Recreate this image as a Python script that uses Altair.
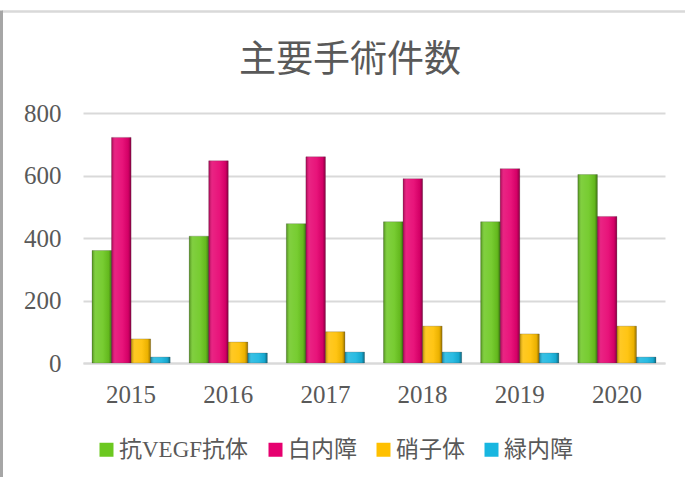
import altair as alt
import pandas as pd

years = ["2015", "2016", "2017", "2018", "2019", "2020"]
series = ["抗VEGF抗体", "白内障", "硝子体", "緑内障"]
anti_vegf = [360, 406, 446, 452, 452, 603]
cataract = [722, 647, 660, 590, 622, 469]
vitreous = [77, 67, 100, 118, 93, 118]
glaucoma = [19, 32, 35, 35, 32, 19]
colors = ["#6cc820", "#e6006f", "#ffc000", "#18b6e0"]

rows = []
for s, vals in zip(series, [anti_vegf, cataract, vitreous, glaucoma]):
    for y, v in zip(years, vals):
        rows.append({"year": y, "series": s, "value": v})
df = pd.DataFrame(rows)

GRAY = "#595959"
LATIN_CJK = "Liberation Serif, 'Noto Sans CJK JP'"

x_enc = alt.X("year:N", sort=years,
              scale=alt.Scale(paddingInner=0.196, paddingOuter=0.093),
              axis=alt.Axis(title=None, labelAngle=0, ticks=False, domain=True,
                            domainColor="#d9d9d9", domainWidth=2, grid=False,
                            labelFont="Liberation Serif", labelFontSize=25,
                            labelColor=GRAY, labelPadding=19))
xo_enc = alt.XOffset("series:N", sort=series,
                     scale=alt.Scale(domain=series, paddingInner=0, paddingOuter=0))
y_enc = alt.Y("value:Q", scale=alt.Scale(domain=[0, 800], nice=False),
              axis=alt.Axis(title=None, values=[0, 200, 400, 600, 800],
                            ticks=False, domain=False, gridColor="#d9d9d9",
                            gridWidth=2, labelFont="Liberation Serif",
                            labelFontSize=25, labelColor=GRAY, labelPadding=22))

bars = alt.Chart(df).mark_bar(stroke="#3a3a3a", strokeWidth=0.4, strokeOpacity=0.6).encode(
    x=x_enc, xOffset=xo_enc, y=y_enc,
    color=alt.Color("series:N", sort=series,
                    scale=alt.Scale(domain=series, range=colors),
                    legend=alt.Legend(title=None, orient="none", legendX=12, legendY=325,
                                      direction="horizontal", columns=4,
                                      symbolType="square", symbolSize=196,
                                      symbolStrokeWidth=0, symbolOpacity=1,
                                      labelFont=LATIN_CJK, labelFontSize=23,
                                      labelColor=GRAY, labelOffset=1,
                                      columnPadding=15))
)

shade = alt.Chart(df).mark_bar(
    fill=alt.Gradient(gradient="linear", x1=0, x2=1, y1=0, y2=0, stops=[
        alt.GradientStop(offset=0, color="rgba(0,0,0,0.30)"),
        alt.GradientStop(offset=0.18, color="rgba(255,255,255,0.14)"),
        alt.GradientStop(offset=0.55, color="rgba(255,255,255,0.08)"),
        alt.GradientStop(offset=0.85, color="rgba(0,0,0,0.08)"),
        alt.GradientStop(offset=1, color="rgba(0,0,0,0.40)"),
    ])
).encode(x=x_enc, xOffset=xo_enc, y=y_enc)

frame_df = pd.DataFrame({"k": [0]})
top_line = alt.Chart(frame_df).mark_rule(color="#d9d9d9", strokeWidth=2.5).encode(
    x=alt.value(-81), x2=alt.value(602), y=alt.value(-101.5))
left_line = alt.Chart(frame_df).mark_rule(color="#a6a6a6", strokeWidth=3).encode(
    x=alt.value(-81.5), y=alt.value(-102.5), y2=alt.value(364))

chart = alt.layer(bars, shade, top_line, left_line).properties(
    width=582, height=250,
    background="white",
    title=alt.TitleParams("主要手術件数", font="Noto Sans CJK JP", fontSize=37,
                          fontWeight="normal", color=GRAY, anchor="middle",
                          frame="group", dx=-24, offset=0, baseline="middle", dy=89),
    autosize=alt.AutoSizeParams(type="none"),
    padding={"left": 83, "top": 113, "right": 20, "bottom": 114},
).configure_view(stroke=None)

chart.save("out.html", embed_options={"renderer": "svg", "actions": False})
